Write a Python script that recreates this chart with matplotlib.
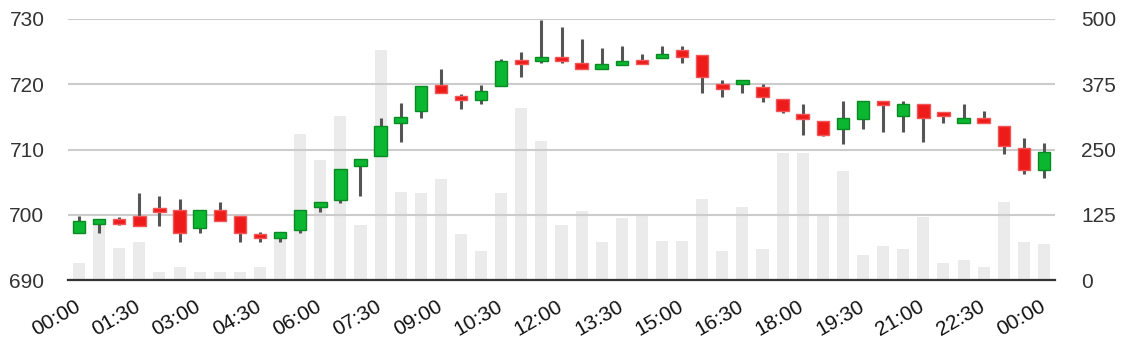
import numpy as np
import matplotlib
matplotlib.use("Agg")
import matplotlib.pyplot as plt
from matplotlib.transforms import ScaledTranslation

plt.rcParams['font.family'] = ['Liberation Sans', 'DejaVu Sans']

# half-hour candles, 00:00 .. 24:00
opens = [697.2, 698.6, 699.3, 699.8, 701.1, 700.8, 697.9, 700.8, 699.8, 697.0,
         696.4, 697.7, 701.2, 702.3, 707.4, 709.0, 714.1, 715.9, 719.9, 718.2,
         717.6, 719.7, 723.7, 723.5, 724.1, 723.2, 722.3, 722.9, 723.7, 724.0,
         725.2, 724.5, 720.0, 720.0, 719.6, 717.7, 715.5, 714.3, 713.1, 714.7,
         717.5, 715.2, 716.9, 715.8, 714.1, 714.8, 713.6, 710.2, 706.9]
highs = [699.8, 699.4, 699.7, 703.3, 702.8, 702.4, 700.8, 701.9, 699.8, 697.3,
         697.3, 700.8, 701.9, 707.0, 708.6, 714.8, 717.2, 719.8, 722.3, 718.5,
         719.9, 723.8, 725.0, 729.8, 728.7, 726.9, 725.5, 725.8, 724.7, 725.8,
         725.8, 724.5, 720.6, 720.6, 720.1, 717.7, 716.9, 714.3, 717.4, 717.5,
         717.5, 717.5, 716.9, 715.8, 716.9, 715.9, 713.6, 711.8, 711.0]
lows = [697.2, 697.2, 698.5, 698.2, 698.2, 695.8, 697.2, 699.0, 695.8, 695.8,
        695.8, 697.2, 700.4, 701.8, 702.8, 709.0, 711.1, 714.9, 718.6, 716.2,
        717.0, 719.7, 721.1, 723.2, 723.2, 722.4, 722.3, 722.9, 723.1, 724.0,
        723.2, 718.6, 718.1, 718.6, 717.3, 715.6, 712.2, 712.0, 710.8, 713.2,
        712.7, 712.7, 711.1, 714.1, 714.1, 714.1, 709.3, 706.3, 705.7]
closes = [699.0, 699.3, 698.6, 698.2, 700.4, 697.2, 700.8, 699.0, 697.2, 696.4,
          697.3, 700.8, 701.9, 707.0, 708.6, 713.6, 715.0, 719.8, 718.6, 717.6,
          718.9, 723.6, 723.1, 724.1, 723.5, 722.4, 723.1, 723.6, 723.1, 724.7,
          724.2, 721.1, 719.2, 720.6, 718.1, 715.9, 714.6, 712.2, 714.8, 717.5,
          716.8, 716.9, 714.9, 715.2, 714.8, 714.1, 710.6, 706.9, 709.6]
volumes = [32, 105, 62, 72, 15, 25, 15, 15, 15, 25,
           80, 280, 230, 314, 105, 440, 169, 166, 193, 88,
           56, 166, 330, 266, 105, 132, 72, 118, 126, 75,
           75, 155, 56, 139, 59, 243, 243, 126, 209, 48,
           65, 59, 121, 32, 38, 25, 149, 72, 69]
tick_labels = ["00:00", "01:30", "03:00", "04:30", "06:00", "07:30", "09:00",
               "10:30", "12:00", "13:30", "15:00", "16:30", "18:00", "19:30",
               "21:00", "22:30", "00:00"]

up_fill, up_edge = '#0bb630', '#0a8a22'
down_fill, down_edge = '#ee1b1b', '#f25555'
wick_color = '#555555'
text_color = '#333333'

fig = plt.figure(figsize=(11.27, 3.48), dpi=100)
ax_vol = fig.add_axes([68 / 1127, 1 - 280 / 348, (1055 - 68) / 1127, 261 / 348])
ax = ax_vol.twinx()

x = np.arange(len(opens))
o = np.array(opens)
c = np.array(closes)

# volume bars behind the candles
ax_vol.bar(x, volumes, width=0.6, color='#ebebeb', zorder=1)
ax_vol.set_ylim(0, 500)
ax_vol.set_yticks([0, 125, 250, 375, 500])
ax_vol.yaxis.tick_right()
ax_vol.grid(axis='y', color='#cccccc', linewidth=1.5, zorder=2)
ax_vol.set_axisbelow(False)

# candles
rising = c >= o
ax.vlines(x, lows, highs, color=wick_color, linewidth=2.2, zorder=3)
body = np.where(np.abs(c - o) < 0.5, 0.5, c - o)
ax.bar(x[rising], body[rising], bottom=o[rising], width=0.62,
       color=up_fill, edgecolor=up_edge, linewidth=1, zorder=4)
ax.bar(x[~rising], body[~rising], bottom=o[~rising], width=0.62,
       color=down_fill, edgecolor=down_edge, linewidth=1, zorder=4)
ax.set_ylim(690, 730)
ax.set_yticks([690, 700, 710, 720, 730])
ax.yaxis.tick_left()
ax.set_xlim(-0.55, 48.55)

for a in (ax, ax_vol):
    for side in ('top', 'left', 'right', 'bottom'):
        a.spines[side].set_visible(False)
    a.tick_params(length=0, labelsize=15, colors=text_color)
ax.spines['bottom'].set_visible(True)
ax.spines['bottom'].set_color('#333333')
ax.spines['bottom'].set_linewidth(1.6)
ax.spines['bottom'].set_zorder(5)
ax.tick_params(axis='y', pad=17)
ax_vol.tick_params(axis='y', pad=19)
ax_vol.tick_params(axis='x', colors='#111111', pad=12)

# x axis labels (the twin's x axis is hidden, so use the volume axes)
ax_vol.set_xticks(np.arange(0, len(opens), 3))
ax_vol.set_xticklabels(tick_labels, rotation=30, ha='right', rotation_mode='anchor')
shift = ScaledTranslation(-5 / 100, 0, fig.dpi_scale_trans)
for lbl in ax_vol.get_xticklabels():
    lbl.set_transform(lbl.get_transform() + shift)

fig.savefig('out.png', dpi=100)
